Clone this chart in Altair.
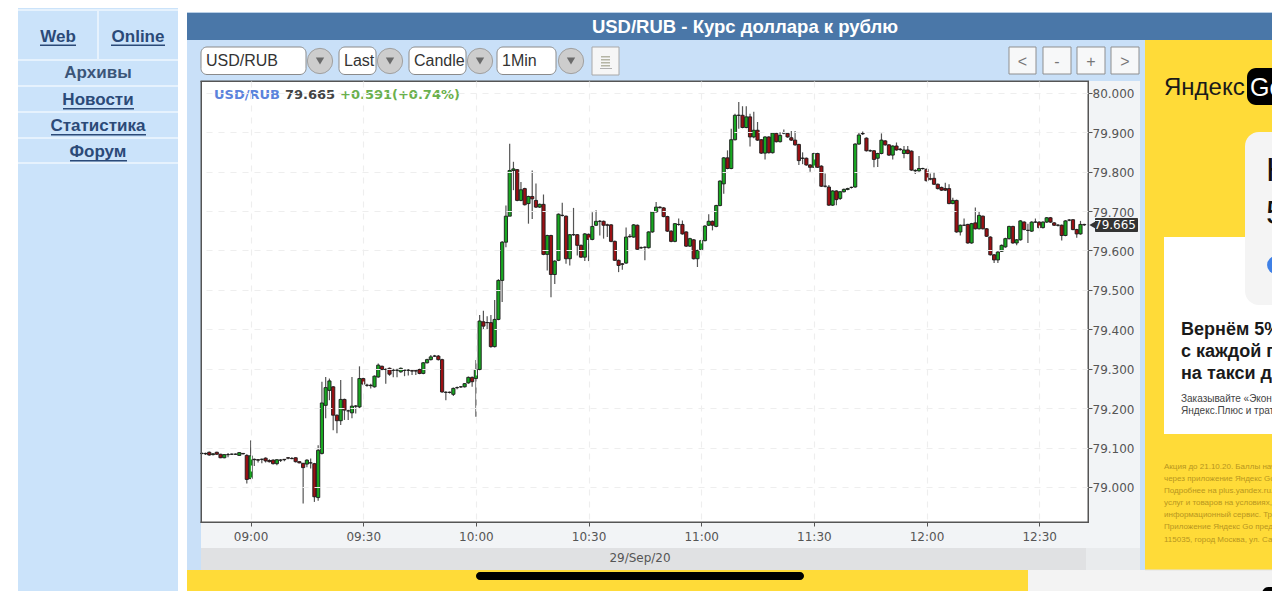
import altair as alt
import pandas as pd

# Prices are given in thousandths above 79 (85 means 79.085)
PRICE_BASE = 79.0
FIRST_MINUTE = 527  # minute of the day of the first candle (08:47)

opens = [
    85,84,88,82,88,83,74,82,83,83,
    80,85,80,21,70,69,70,73,67,68,
    59,68,70,74,72,74,64,60,58,61,
    59,-27,85,207,245,254,182,168,222,193,
    188,205,203,275,258,258,254,279,306,298,
    301,296,296,292,296,296,295,295,298,288,
    315,323,332,332,323,240,240,235,252,254,
    254,264,278,275,298,419,417,417,356,425,
    524,621,687,803,805,727,757,719,737,727,
    710,717,590,638,539,575,689,687,579,640,
    640,613,583,641,628,664,674,674,665,665,
    623,575,566,568,636,634,664,607,608,607,
    647,698,710,708,686,649,623,666,666,647,
    611,627,579,602,625,664,674,661,714,769,
    835,808,881,943,943,912,939,888,905,881,
    847,888,848,897,876,898,897,886,880,869,
    834,834,817,811,846,814,763,761,715,751,
    732,749,755,760,761,870,897,885,853,853,
    834,846,878,868,842,865,857,846,855,852,
    802,802,808,806,782,783,768,760,757,757,
    719,727,647,664,666,619,670,655,687,655,
    634,589,576,598,609,630,661,619,627,672,
    651,649,672,672,658,672,683,670,664,664,
    638,677,678,653,642,666,
]
closes = [
    85,85,81,84,83,74,82,82,83,83,
    87,84,19,79,69,68,70,66,64,59,
    69,68,69,73,72,64,61,49,68,61,
    -25,93,213,252,269,182,168,222,195,193,
    205,205,275,261,258,257,281,309,298,298,
    286,296,296,301,296,296,294,294,288,315,
    323,330,332,323,241,240,240,250,252,254,
    262,278,267,298,421,408,417,356,425,524,
    621,687,803,807,727,754,716,737,731,710,
    717,590,638,539,573,692,689,579,640,640,
    613,583,642,628,661,674,674,664,664,623,
    575,562,565,634,635,665,603,607,608,647,
    698,710,709,686,649,623,668,666,642,611,
    630,579,600,625,662,674,664,714,776,835,
    808,881,943,943,912,939,888,905,880,847,
    888,848,898,876,892,898,888,880,868,828,
    834,817,811,846,811,763,763,715,751,729,
    749,755,757,760,870,893,896,853,853,831,
    846,880,868,842,865,855,856,855,846,804,
    803,808,808,777,781,768,757,753,753,719,
    727,647,664,664,619,668,655,689,655,636,
    589,576,596,613,630,661,619,627,675,653,
    651,672,672,658,672,683,672,664,664,638,
    675,677,653,642,666,665,
]
highs = [
    88,87,90,86,89,84,83,86,85,85,
    88,86,83,118,72,71,72,75,70,70,
    70,71,71,76,76,75,65,61,70,72,
    61,106,267,279,275,256,184,271,224,196,
    279,208,306,277,262,262,283,313,308,301,
    303,300,300,303,299,299,298,299,300,317,
    325,335,335,335,325,243,242,252,255,256,
    264,280,280,322,436,447,433,436,474,527,
    624,714,871,825,807,774,759,739,803,770,
    719,742,640,640,575,694,721,689,642,708,
    642,615,644,643,697,702,677,676,668,667,
    625,577,568,658,642,667,666,610,611,649,
    700,723,712,710,688,651,670,681,676,649,
    632,629,602,627,664,692,676,716,778,837,
    854,909,947,977,966,966,947,952,926,883,
    890,890,900,899,900,907,899,903,903,871,
    849,836,819,848,848,816,795,766,753,753,
    751,757,759,762,872,899,902,887,856,855,
    848,897,880,870,867,874,860,865,865,854,
    806,840,810,808,795,797,770,762,772,768,
    734,729,666,681,668,670,709,698,689,657,
    636,591,598,615,632,663,663,629,677,674,
    668,674,681,674,674,685,685,672,667,666,
    677,680,680,655,675,668,
]
lows = [
    82,81,79,80,81,73,73,75,81,81,
    79,82,9,20,53,62,60,62,62,57,
    55,63,65,70,70,62,60,-42,50,47,
    -38,-35,82,174,220,144,136,157,170,170,
    174,186,200,258,254,250,252,277,296,262,
    282,278,278,290,281,283,284,284,286,286,
    313,321,330,321,239,220,237,231,248,251,
    252,262,254,178,296,398,398,353,354,423,
    469,608,752,753,725,725,714,668,680,708,
    708,588,549,481,515,573,686,566,562,637,
    587,581,573,573,626,662,638,630,634,621,
    573,545,551,566,632,632,601,604,575,605,
    645,696,706,684,647,621,621,663,640,609,
    609,577,558,600,623,662,651,659,712,744,
    806,806,879,909,910,910,864,885,878,845,
    831,846,846,874,874,895,886,878,866,817,
    819,815,800,809,809,761,760,713,713,715,
    728,747,753,757,759,868,893,851,850,811,
    812,844,866,840,831,853,853,834,844,802,
    794,800,805,775,778,766,755,751,751,717,
    717,645,638,662,617,617,653,653,653,634,
    587,568,568,596,607,628,617,613,625,651,
    619,647,670,656,656,670,670,662,661,625,
    636,674,651,632,640,662,
]

x_tick_values = [540, 570, 600, 630, 660, 690, 720, 750]
x_tick_labels = ["09:00", "09:30", "10:00", "10:30", "11:00", "11:30", "12:00", "12:30"]
y_tick_values = [79.0, 79.1, 79.2, 79.3, 79.4, 79.5, 79.6, 79.7, 79.8, 79.9, 80.0]

sidebar_items = ["Архивы", "Новости", "Статистика", "Форум"]
legal_lines = [
    "Акция до 21.10.20. Баллы начисляю",
    "через приложение Яндекс Go при",
    "Подробнее на plus.yandex.ru. Янде",
    "услуг и товаров на условиях, указ",
    "информационный сервис. Трансп",
    "Приложение Яндекс Go предостав",
    "115035, город Москва, ул. Садовни",
]

df = pd.DataFrame({
    "minute": [FIRST_MINUTE + i for i in range(len(opens))],
    "open": [PRICE_BASE + v / 1000 for v in opens],
    "close": [PRICE_BASE + v / 1000 for v in closes],
    "high": [PRICE_BASE + v / 1000 for v in highs],
    "low": [PRICE_BASE + v / 1000 for v in lows],
})
df["dir"] = ["up" if c >= o else "down" for o, c in zip(df["open"], df["close"])]

ONE = pd.DataFrame({"k": [0]})
PLOT_L, PLOT_T, PLOT_W, PLOT_H = 201, 81, 887, 441
CANVAS_W, CANVAS_H = 1264, 583
UI = "Liberation Sans"


def X(px):
    return px - PLOT_L


def Y(py):
    return py - PLOT_T


def box(x0, y0, x1, y1, fill, stroke=None, r=0, sw=1):
    kw = {"color": fill, "cornerRadius": r}
    if stroke:
        kw.update(stroke=stroke, strokeWidth=sw)
    return alt.Chart(ONE).mark_rect(**kw).encode(
        x=alt.value(X(x0)), x2=alt.value(X(x1)), y=alt.value(Y(y0)), y2=alt.value(Y(y1))
    )


def label(text, px, py, size, color, font=UI, weight="normal", align="left"):
    return alt.Chart(ONE).mark_text(
        fontSize=size, color=color, font=font, fontWeight=weight, align=align, baseline="middle"
    ).encode(x=alt.value(X(px)), y=alt.value(Y(py + 1)), text=alt.value(text))


def dot(px, py, size, fill, shape="circle", stroke=None):
    kw = {"shape": shape, "filled": True, "color": fill, "opacity": 1}
    if stroke:
        kw.update(stroke=stroke, strokeWidth=1)
    return alt.Chart(ONE).mark_point(**kw).encode(
        x=alt.value(X(px)), y=alt.value(Y(py)), size=alt.value(size)
    )


SIDE = "#cbe3fa"
PANEL = "#c9e0f8"
YELLOW = "#ffdb38"
LINK = "#2b4a78"
GUTTER = "#f2f4f6"

layers = []
# sidebar
layers.append(box(18, 8, 178, 591, SIDE))
for yy in [60, 86, 112, 138, 163]:
    layers.append(box(18, yy - 1, 178, yy + 1, "#e6f2fd"))
layers.append(box(97, 9, 99, 59, "#e6f2fd"))
layers.append(box(18, 9, 178, 11, "#e6f2fd"))
layers.append(label("Web", 58, 36, 17, LINK, weight="bold", align="center"))
layers.append(box(40, 44.5, 76, 46, LINK))
layers.append(label("Online", 138, 36, 17, LINK, weight="bold", align="center"))
layers.append(box(111, 44.5, 165, 46, LINK))
for name, yy, ux0, ux1 in [
    (sidebar_items[0], 72, None, None),
    (sidebar_items[1], 99, 63, 134),
    (sidebar_items[2], 125, 51, 146),
    (sidebar_items[3], 151, 70, 127),
]:
    layers.append(label(name, 98, yy, 17, LINK if ux0 else "#3b5578", weight="bold", align="center"))
    if ux0:
        layers.append(box(ux0, yy + 9, ux1, yy + 10.5, LINK))

# chart panel (drawn around the plot so that the grid stays visible)
layers.append(box(187, 12, 1280, 13, "#b9cfe6"))
layers.append(box(187, 13, 1280, 40, "#4a77a8"))
layers.append(label("USD/RUB - Курс доллара к рублю", 745, 26, 18.5, "white", weight="bold", align="center"))
layers.append(box(187, 40, 1145, 81, PANEL))
layers.append(box(187, 81, 201, 570, PANEL))
layers.append(box(1140, 81, 1145, 570, PANEL))
layers.append(box(1088, 81, 1140, 548, GUTTER))
layers.append(box(201, 522, 1140, 548, GUTTER))
layers.append(box(201, 548, 1086, 570, "#e0e1e3"))
layers.append(box(1086, 548, 1140, 570, "#e9ebed"))
layers.append(label("29/Sep/20", 640, 557, 12, "#555555", font="DejaVu Sans", align="center"))

# controls
for txt, x0, x1, cx in [("USD/RUB", 201, 306, 320), ("Last", 339, 376, 390), ("Candle", 409, 466, 480), ("1Min", 497, 556, 571)]:
    layers.append(box(x0, 47, x1, 74.5, "white", stroke="#8a8a8a", r=6, sw=1))
    layers.append(label(txt, x0 + 5, 60, 16, "#333333"))
    layers.append(dot(cx, 61, 640, "#cdcdcd", stroke="#a0a0a0"))
    layers.append(dot(cx, 61, 70, "#6a6a6a", shape="triangle-down"))
layers.append(box(592, 47, 619, 75, "#f6f6f6", stroke="#a8a8a8"))
for yy in [56, 59, 62, 65]:
    layers.append(box(601, yy, 610, yy + 1.5, "#b5b5a5"))
layers.append(box(600, 68, 612, 69, "#b0b0b0"))
for txt, x0, x1 in [("<", 1009, 1036), ("-", 1043, 1071), ("+", 1077, 1105), (">", 1111, 1139)]:
    layers.append(box(x0, 47, x1, 74, "#f7f8f9", stroke="#8f8f8f"))
    layers.append(label(txt, (x0 + x1) / 2, 61, 16, "#777777", align="center"))

# advert
layers.append(box(1145, 40, 1280, 570, YELLOW))
layers.append(label("Яндекс", 1164, 87, 24, "#1a1a1a"))
layers.append(box(1247, 68, 1295, 105, "#000000", r=9))
layers.append(label("Go", 1250, 87, 25, "white"))
layers.append(box(1164, 237, 1280, 434, "white"))
layers.append(box(1245, 132, 1300, 305, "#f4f4f4", r=14))
layers.append(label("К", 1266, 170, 34, "#111111"))
layers.append(label("5", 1266, 213, 34, "#111111"))
layers.append(dot(1276, 265, 320, "#3f80e6"))
for txt, yy in [("Вернём 5%", 329), ("с каждой п", 351), ("на такси до", 373)]:
    layers.append(label(txt, 1181, yy, 18, "#1a1a1a", weight="bold"))
for txt, yy in [("Заказывайте «Экон", 398), ("Яндекс.Плюс и трат", 410)]:
    layers.append(label(txt, 1181, yy, 10, "#444444"))
for txt, yy in zip(legal_lines, [466, 478, 490, 502, 514, 526, 539]):
    layers.append(label(txt, 1164, yy, 8, "#b8961f"))

# candles
x_axis = alt.Axis(
    values=x_tick_values,
    labelExpr="[" + ",".join(f"'{s}'" for s in x_tick_labels) + "][(datum.value-540)/30]",
    title=None, domain=False, grid=True, gridColor="#eeeeee", gridDash=[6, 6], gridWidth=1.2,
    labelFont="DejaVu Sans", labelFontSize=12, labelColor="#555555", labelPadding=5,
    tickColor="#555555", tickSize=4, zindex=1, labelFlush=False, labelOverlap=False,
)
y_axis = alt.Axis(
    values=y_tick_values, format=".3f", orient="right",
    title=None, domain=False, grid=True, gridColor="#eeeeee", gridDash=[6, 6], gridWidth=1.2,
    labelFont="DejaVu Sans", labelFontSize=12, labelColor="#555555", labelPadding=0, labelOffset=1,
    tickColor="#555555", tickSize=4, zindex=1, labelOverlap=False,
)
x_enc = alt.X("minute:Q", scale=alt.Scale(domain=[526.8, 763.0], nice=False, zero=False, padding=0), axis=x_axis)
y_scale = alt.Scale(domain=[78.911, 80.030], nice=False, zero=False)

wicks = alt.Chart(df).mark_rule(color="#555555", strokeWidth=1.2).encode(
    x=x_enc, y=alt.Y("low:Q", scale=y_scale, axis=y_axis), y2="high:Q"
)
bodies = alt.Chart(df).mark_bar(size=3.2, stroke="#1c1c1c", strokeWidth=0.9, orient="vertical").encode(
    x=x_enc,
    y=alt.Y("open:Q", scale=y_scale, axis=y_axis),
    y2="close:Q",
    color=alt.Color("dir:N", scale=alt.Scale(domain=["up", "down"], range=["#18a821", "#9b1014"]), legend=None),
)
layers.extend([wicks, bodies])

# plot frame
layers.append(box(200.5, 81, 202, 523, "#555555"))
layers.append(box(200.5, 80.5, 1089, 82, "#555555"))
layers.append(box(1087.5, 81, 1089, 523, "#555555"))
layers.append(box(200.5, 521.5, 1089, 523, "#555555"))

# chart header text
layers.append(label("USD/RUB", 214, 94, 13, "#5b83dc", font="DejaVu Sans", weight="bold"))
layers.append(label("79.665", 285, 94, 13, "#444444", font="DejaVu Sans", weight="bold"))
layers.append(label("+0.591(+0.74%)", 340, 94, 13, "#6bb04c", font="DejaVu Sans", weight="bold"))

# last price tag
layers.append(box(1095, 218, 1138, 232, "#333333", r=1))
layers.append(dot(1093, 225, 70, "#333333", shape="triangle-left"))
layers.append(label("79.665", 1094, 224, 12, "white", font="DejaVu Sans"))

# bottom bar
layers.append(box(187, 570, 1028, 591, YELLOW))
layers.append(box(1028, 570, 1280, 591, "#f3f3f3"))
layers.append(box(1145, 569.5, 1280, 570.5, "#e3e3e3"))
layers.append(box(1262, 587, 1300, 600, "#000000", r=10))
layers.append(box(476, 572, 804, 580, "#000000", r=4))

chart = alt.layer(*layers).properties(
    width=PLOT_W,
    height=PLOT_H,
    padding={
        "left": PLOT_L - 8,
        "top": PLOT_T - 8,
        "right": CANVAS_W - (PLOT_L - 8) - PLOT_W,
        "bottom": CANVAS_H - (PLOT_T - 8) - PLOT_H,
    },
    autosize=alt.AutoSizeParams(type="none"),
    background="white",
).configure_view(stroke=None)

chart.save("out.html", embed_options={"renderer": "svg", "actions": False})
